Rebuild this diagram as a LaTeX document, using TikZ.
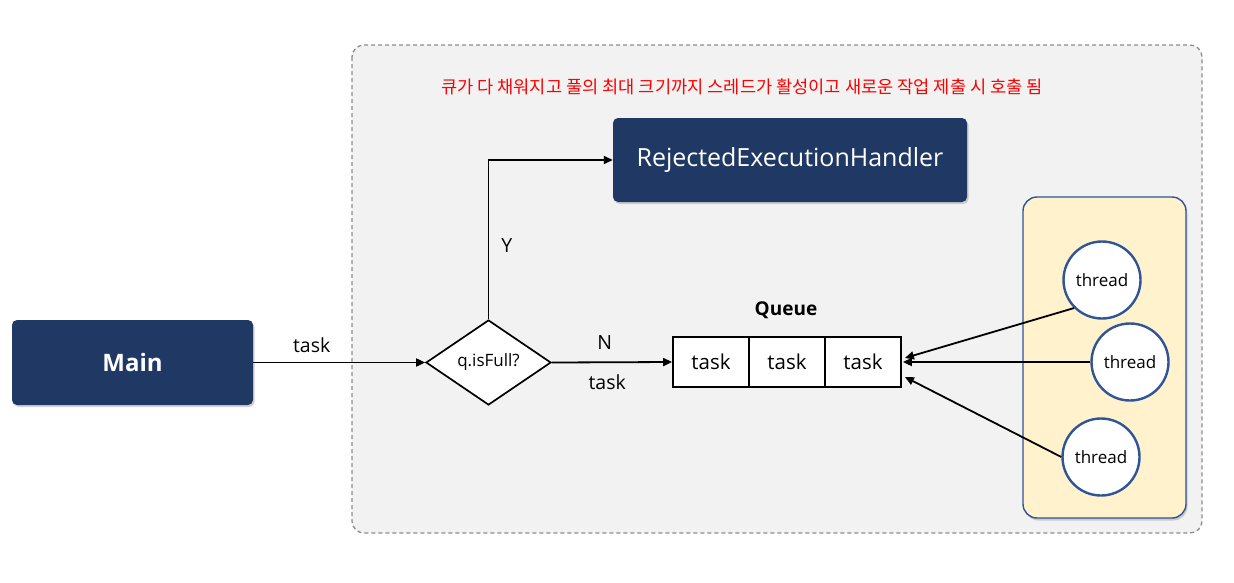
\documentclass[tikz,border=0pt]{standalone}
\usepackage{fontspec}
\setmainfont{Open Sans}
\newfontfamily\kr{Noto Sans CJK KR}
\usetikzlibrary{arrows.meta,shapes.geometric,shadows,positioning}
\definecolor{navy}{HTML}{203864}
\definecolor{bgray}{HTML}{F2F2F2}
\definecolor{yel}{HTML}{FFF2CC}
\definecolor{tblue}{HTML}{2F5597}
\tikzset{
  navybox/.style={draw=none,fill=navy,rounded corners=5pt,text=white,
    drop shadow={shadow xshift=1.5pt,shadow yshift=-2pt,opacity=0.35},
    inner sep=0pt,font=\fontsize{25}{29}\selectfont},
  cell/.style={draw=black,line width=1.8pt,fill=white,minimum width=76pt,minimum height=50pt,inner sep=0pt,font=\fontsize{20.5}{25}\selectfont},
  thr/.style={circle,draw=tblue,line width=2.4pt,fill=white,minimum size=77pt,inner sep=0pt,font=\fontsize{17}{21}\selectfont},
  arr/.style={line width=1.8pt,-{Triangle[length=9pt,width=8pt]}},
  lbl/.style={font=\fontsize{19.5}{23}\selectfont,inner sep=0pt},
}
\begin{document}
\begin{tikzpicture}[x=1pt,y=-1pt]
\useasboundingbox (0,0) rectangle (1234,582);
\fill[white] (0,0) rectangle (1234,582);
% outer dashed region
\draw[draw=gray!90,fill=bgray,dash pattern=on 4pt off 3pt,line width=1.3pt,rounded corners=12pt] (352,45) rectangle (1202,533);
% note
\node[text=red,font=\kr\fontsize{17.6}{21}\selectfont,inner sep=0pt] (note) at (742,87) {큐가 다 채워지고 풀의 최대 크기까지 스레드가 활성이고 새로운 작업 제출 시 호출 됨};
% Main
\node[navybox,minimum width=241pt,minimum height=85pt] (main) at (132.5,362.5) {\fontsize{24}{29}\selectfont\bfseries Main};
% Rejected handler
\node[navybox,minimum width=354pt,minimum height=84pt] (rej) at (790,160) {RejectedExecutionHandler};
% diamond
\node[diamond,draw=black,line width=1.7pt,fill=white,minimum width=125pt,minimum height=85pt,inner sep=0pt,aspect=1.47,font=\fontsize{17}{20}\selectfont] (dia) at (488.5,362.5) {q.isFull?};
% queue cells
\node[cell] (q1) at (711,362) {task};
\node[cell] (q2) at (787,362) {task};
\node[cell] (q3) at (863,362) {task};
\node[font=\fontsize{19}{24}\selectfont\bfseries,inner sep=0pt] (qlab) at (786,310) {Queue};
% thread container
\node[draw=tblue,line width=1.4pt,fill=yel,rounded corners=14pt,minimum width=163pt,minimum height=321pt,inner sep=0pt,
  drop shadow={shadow xshift=1.5pt,shadow yshift=-2.5pt,opacity=0.35}] (pool) at (1104.5,357.5) {};
\node[thr] (t1) at (1102,280) {thread};
\node[thr] (t2) at (1130,362) {thread};
\node[thr] (t3) at (1101,457) {thread};
% connectors
\draw[arr] (main.east) -- node[lbl,pos=0.34,above=9pt] (lt) {task} (dia.west);
\draw[arr] (dia.north) |- node[lbl,pos=0.23,right=12pt] (ly) {Y} (rej.west);
\draw[arr] (dia.east) -- node[lbl,pos=0.44,above=12pt] (ln) {N} node[lbl,pos=0.46,below=12pt] (lt2) {task} (q1.west);
\coordinate (e1) at ([xshift=3pt,yshift=4pt]q3.east);
\coordinate (e2) at ([xshift=1pt]q3.east);
\coordinate (e3) at ([xshift=3pt,yshift=-15pt]q3.east);
\draw[arr] (t1.225) -- (e1);
\draw[arr] (t2.west) -- (e2);
\draw[arr] (t3.180) -- (e3);
\end{tikzpicture}
\end{document}
